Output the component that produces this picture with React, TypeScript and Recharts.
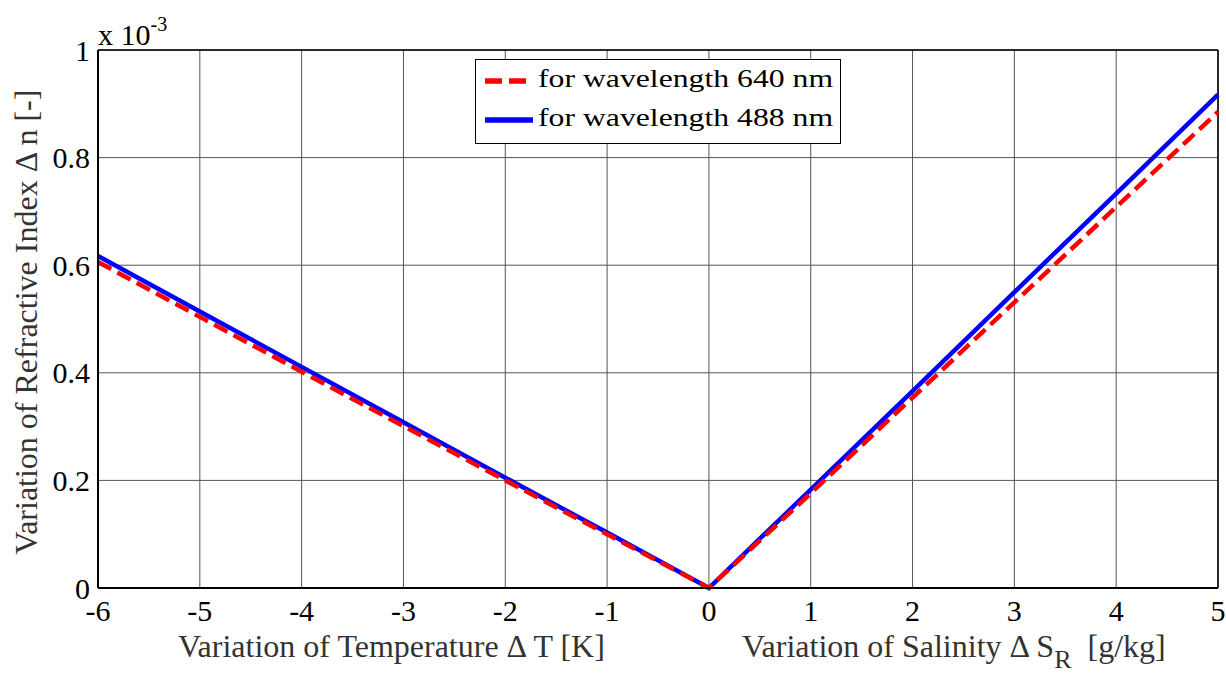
import { LineChart, Line, XAxis, YAxis, CartesianGrid, ReferenceLine, Label } from 'recharts'

// x: temperature change (K) on the left of 0, salinity change (g/kg) on the right
const xValues = [-6, -5, -4, -3, -2, -1, 0, 1, 2, 3, 4, 5]
// refractive index change, in units of 10^-3
const n640 = [0.606, 0.504, 0.402, 0.301, 0.2, 0.1, 0, 0.176, 0.354, 0.531, 0.708, 0.885]
const n488 = [0.617, 0.514, 0.411, 0.308, 0.205, 0.103, 0, 0.183, 0.366, 0.55, 0.733, 0.917]
const xTicks = [-6, -5, -4, -3, -2, -1, 0, 1, 2, 3, 4, 5]
const yTicks = [0, 0.2, 0.4, 0.6, 0.8, 1]

const data = xValues.map((x, i) => ({ x, n640: n640[i], n488: n488[i] }))

const serif = 'Liberation Serif, serif'

export default function App() {
  return (
    <div style={{ position: 'absolute', left: 0, top: 0, width: 1226, height: 677, background: '#fff', fontFamily: serif }}>
      <LineChart
        width={1226}
        height={677}
        data={data}
        margin={{ top: 50, right: 8, bottom: 0, left: 0 }}
        style={{ fontFamily: serif }}
      >
        <CartesianGrid stroke="#555" strokeWidth={1} />
        <XAxis
          dataKey="x"
          type="number"
          domain={[-6, 5]}
          ticks={xTicks}
          interval={0}
          height={89}
          tickLine={false}
          axisLine={{ stroke: '#000', strokeWidth: 2 }}
          tick={{ fontSize: 30, fill: '#000', fontFamily: serif }}
          tickMargin={6}
          tickFormatter={(v: number) => String(v)}
        />
        <YAxis
          type="number"
          domain={[0, 1]}
          ticks={yTicks}
          interval={0}
          width={98}
          tickLine={false}
          axisLine={{ stroke: '#000', strokeWidth: 2 }}
          tick={{ fontSize: 30, fill: '#000', fontFamily: serif }}
          tickMargin={2}
          tickFormatter={(v: number) => String(Number(v.toFixed(1)))}
        >
          <Label
            value="Variation of Refractive Index Δ n [-]"
            angle={-90}
            position="center"
            dx={-23}
            dy={3}
            style={{ fontSize: 32, fill: '#333', fontFamily: serif }}
          />
        </YAxis>
        <ReferenceLine y={1} stroke="#000" strokeWidth={1.5} />
        <ReferenceLine x={5} stroke="#000" strokeWidth={1.5} />
        <Line
          type="linear"
          dataKey="n488"
          stroke="#0000ff"
          strokeWidth={4.5}
          dot={false}
          isAnimationActive={false}
        />
        <Line
          type="linear"
          dataKey="n640"
          stroke="#ff0000"
          strokeWidth={4.5}
          strokeDasharray="15 7"
          dot={false}
          isAnimationActive={false}
        />
      </LineChart>

      <div style={{ position: 'absolute', left: 98, top: 17, fontSize: 30, color: '#000', lineHeight: 1, fontFamily: serif, whiteSpace: 'nowrap' }}>
        x 10<sup style={{ fontSize: 20, position: 'relative', top: -3 }}>-3</sup>
      </div>

      <div
        style={{
          position: 'absolute',
          left: 475,
          top: 59,
          width: 366,
          height: 85,
          border: '1.5px solid #000',
          background: '#fff',
          boxSizing: 'border-box',
          fontSize: 26,
          color: '#000',
          fontFamily: serif,
        }}
      >
        <svg style={{ position: 'absolute', left: 9, top: 16 }} width={48} height={10}>
          <line x1={0} y1={5} x2={48} y2={5} stroke="#ff0000" strokeWidth={5.5} strokeDasharray="17 7" />
        </svg>
        <span style={{ position: 'absolute', left: 62, top: 3, lineHeight: 1.2, whiteSpace: 'nowrap', transform: 'scaleX(1.22)', transformOrigin: 'left center' }}>
          for wavelength 640 nm
        </span>
        <svg style={{ position: 'absolute', left: 9, top: 55 }} width={48} height={10}>
          <line x1={0} y1={5} x2={48} y2={5} stroke="#0000ff" strokeWidth={5.5} />
        </svg>
        <span style={{ position: 'absolute', left: 62, top: 42, lineHeight: 1.2, whiteSpace: 'nowrap', transform: 'scaleX(1.22)', transformOrigin: 'left center' }}>
          for wavelength 488 nm
        </span>
      </div>

      <div style={{ position: 'absolute', left: 178, top: 628, fontSize: 32, color: '#333', whiteSpace: 'nowrap', fontFamily: serif }}>
        Variation of Temperature Δ T [K]
      </div>
      <div style={{ position: 'absolute', left: 742, top: 628, fontSize: 32, color: '#333', whiteSpace: 'nowrap', fontFamily: serif }}>
        Variation of Salinity Δ S<sub style={{ fontSize: 26, position: 'relative', top: 4 }}>R</sub>&nbsp; [g/kg]
      </div>
    </div>
  )
}
